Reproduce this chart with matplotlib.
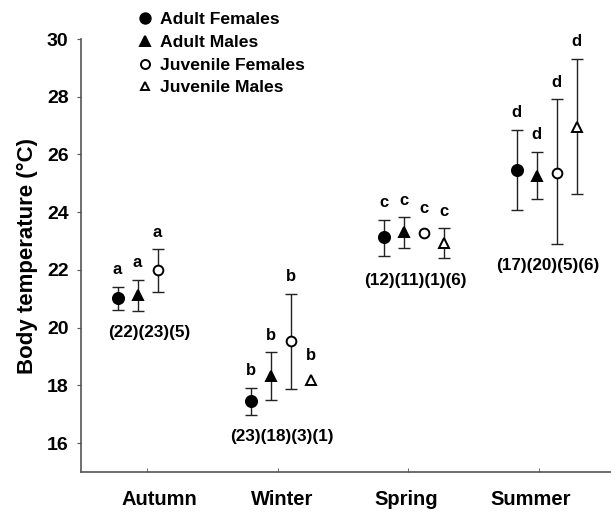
import numpy as np
import matplotlib.pyplot as plt
from matplotlib.lines import Line2D

plt.rcParams['font.family'] = ['Liberation Sans', 'DejaVu Sans']
plt.rcParams['font.weight'] = 'bold'

seasons = ["Autumn", "Winter", "Spring", "Summer"]
groups = ["Adult Females", "Adult Males", "Juvenile Females", "Juvenile Males"]

# mean body temperature per group (rows) and season (columns); nan = no data
means = np.array([
    [21.02, 17.47, 23.13, 25.48],
    [21.14, 18.32, 23.30, 25.25],
    [21.99, 19.54, 23.27, 25.37],
    [np.nan, 18.18, 22.92, 26.96],
])
upper = np.array([
    [21.42, 17.92, 23.73, 26.86],
    [21.66, 19.15, 23.82, 26.09],
    [22.72, 21.17, np.nan, 27.92],
    [np.nan, np.nan, 23.44, 29.31],
])
lower = np.array([
    [20.62, 16.98, 22.49, 24.08],
    [20.58, 17.51, 22.76, 24.45],
    [21.25, 17.89, np.nan, 22.90],
    [np.nan, np.nan, 22.40, 24.62],
])
letters = ["a", "b", "c", "d"]
sample_sizes = ["(22)(23)(5)", "(23)(18)(3)(1)", "(12)(11)(1)(6)", "(17)(20)(5)(6)"]

markers = ["o", "^", "o", "^"]
filled = [True, True, False, False]
msizes = [8, 7.5, 7, 6.5]
offsets = [-0.225, -0.075, 0.075, 0.225]
centers = np.arange(1, 5)
tick_pos = np.array([0.995, 1.978, 2.96, 3.94])
label_pos = np.array([1.085, 2.015, 2.94, 3.88])

fig = plt.figure(figsize=(6.11, 5.17), dpi=100)
ax = fig.add_axes([0.1326, 0.087, 0.867, 0.8375])

for g in range(4):
    for s in range(4):
        m = means[g, s]
        if np.isnan(m):
            continue
        x = centers[s] + offsets[g]
        top = upper[g, s]
        if not np.isnan(top):
            ax.errorbar(x, m, yerr=[[m - lower[g, s]], [top - m]], fmt='none',
                        ecolor='#222222', elinewidth=1.0, capsize=4.6, capthick=1.0)
            ly = top + 0.33
        else:
            ly = m + 0.6
        ax.plot(x, m, marker=markers[g], ms=msizes[g], color='black',
                mfc='black' if filled[g] else 'white', mew=1.4, zorder=3)
        ax.text(x, ly, letters[s], ha='center', va='bottom', fontsize=12, fontweight='bold')

for s in range(4):
    ylow = np.nanmin(np.concatenate([lower[:, s], means[:, s]]))
    ax.text(centers[s] + 0.01, ylow - 0.75, sample_sizes[s], ha='center', va='center',
            fontsize=12.3, fontweight='bold')

ax.set_xlim(0.5, 4.48)
ax.set_ylim(15, 30)
ax.set_yticks(np.arange(16, 31, 2))
ax.set_xticks(tick_pos, minor=True)
ax.set_xticks(label_pos)
ax.set_xticklabels(seasons, fontsize=14.5, fontweight='bold')
ax.tick_params(axis='x', which='major', length=0, pad=13)
ax.tick_params(axis='x', which='minor', length=3, direction='in', color='#555555')
ax.tick_params(axis='y', length=3, direction='out', color='#555555', labelsize=14, pad=6)
for lab in ax.get_yticklabels():
    lab.set_fontweight('bold')
ax.set_ylabel("Body temperature (°C)", fontsize=16, fontweight='bold', labelpad=6)

for side in ['top', 'right']:
    ax.spines[side].set_visible(False)
for side in ['left', 'bottom']:
    ax.spines[side].set_color('#555555')
    ax.spines[side].set_linewidth(1.2)

handles = [Line2D([], [], linestyle='none', marker=markers[g], ms=msizes[g] - 0.5, color='black',
                  mfc='black' if filled[g] else 'white', mew=1.4) for g in range(4)]
fig.legend(handles, groups, loc='upper left', bbox_to_anchor=(0.205, 1.0),
           frameon=False, handlelength=0.8, handletextpad=0.5,
           labelspacing=0.42, borderpad=0.2, prop={'weight': 'bold', 'size': 12.6})

fig.savefig("out.png", dpi=100)
